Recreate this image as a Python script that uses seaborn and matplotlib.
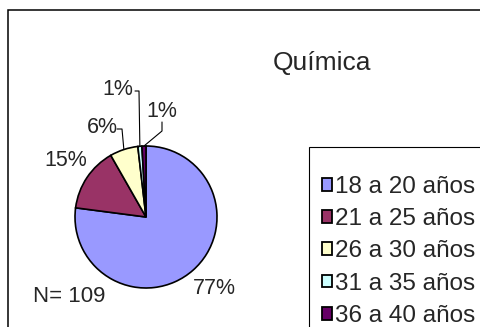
import matplotlib
matplotlib.use("Agg")
import matplotlib.pyplot as plt
from matplotlib.patches import Rectangle
import numpy as np
import seaborn as sns

# Age groups and student counts (Química, N = 109)
categories = ["18 a 20 años", "21 a 25 años", "26 a 30 años", "31 a 35 años", "36 a 40 años"]
counts = [84, 16, 7, 1, 1]
slice_colors = ["#9999FF", "#993366", "#FFFFCC", "#CCFFFF", "#660066"]
title = "Química"
n_label = "N= 109"

sns.set_style("white")
plt.rcParams["font.family"] = ["Liberation Sans", "DejaVu Sans"]

W, H = 481, 327
fig = plt.figure(figsize=(W / 100, H / 100), dpi=100)
fig.patch.set_facecolor("white")

# full-figure axes working in pixel units (y upwards)
ax = fig.add_axes([0, 0, 1, 1])

cx, cy, r = 146, H - 217, 71
palette = sns.color_palette(slice_colors)
wedges, _ = ax.pie(counts, colors=palette, startangle=90, counterclock=False,
                   center=(cx, cy), radius=r, frame=True,
                   wedgeprops=dict(edgecolor="black", linewidth=1.2))
ax.set_xlim(0, W)
ax.set_ylim(0, H)
ax.set_axis_off()

total = sum(counts)
pct = [f"{round(100 * c / total):.0f}%" for c in counts]

# label positions (pixels, top-left origin) and leader elbows
label_xy = [(214, 289), (66, 161), (102, 128), (118, 90), (162, 112)]
leaders = {
    2: [(117, 129), (122, 129)],
    3: [(135, 91), (139, 91)],
    4: [(162, 122), (162, 131)],
}
for i, (lx, ly) in enumerate(label_xy):
    ax.text(lx, H - ly, pct[i], ha="center", va="center", fontsize=15.5)
    if i in leaders:
        w = wedges[i]
        theta = np.deg2rad((w.theta1 + w.theta2) / 2)
        ex, ey = cx + r * np.cos(theta), cy + r * np.sin(theta)
        pts = [(x, H - y) for x, y in leaders[i]] + [(ex, ey)]
        xs, ys = zip(*pts)
        ax.plot(xs, ys, color="black", lw=0.8)

ax.text(322, H - 63, title, ha="center", va="center", fontsize=19)
ax.text(33, H - 297, n_label, ha="left", va="center", fontsize=16)

# outer chart border (open to the right and bottom)
ax.add_patch(Rectangle((8, -20), W + 50, H - 10 + 20, fill=False,
                       edgecolor="black", lw=1.1, clip_on=False))
# legend border
ax.add_patch(Rectangle((309, -20), W, H - 147 + 20, fill=False,
                       edgecolor="black", lw=0.8, clip_on=False))

handles = [Rectangle((0, 0), 1, 1, facecolor=c, edgecolor="black", lw=1.3)
           for c in palette]
leg = ax.legend(handles, categories, loc="upper left",
                bbox_to_anchor=(322 / W, 1 - 176 / H), bbox_transform=fig.transFigure,
                frameon=False, fontsize=17.5, handlelength=0.43, handleheight=0.43,
                handletextpad=0.12, labelspacing=0.42, borderpad=0, borderaxespad=0)

fig.savefig("out.png", dpi=100, facecolor="white")
